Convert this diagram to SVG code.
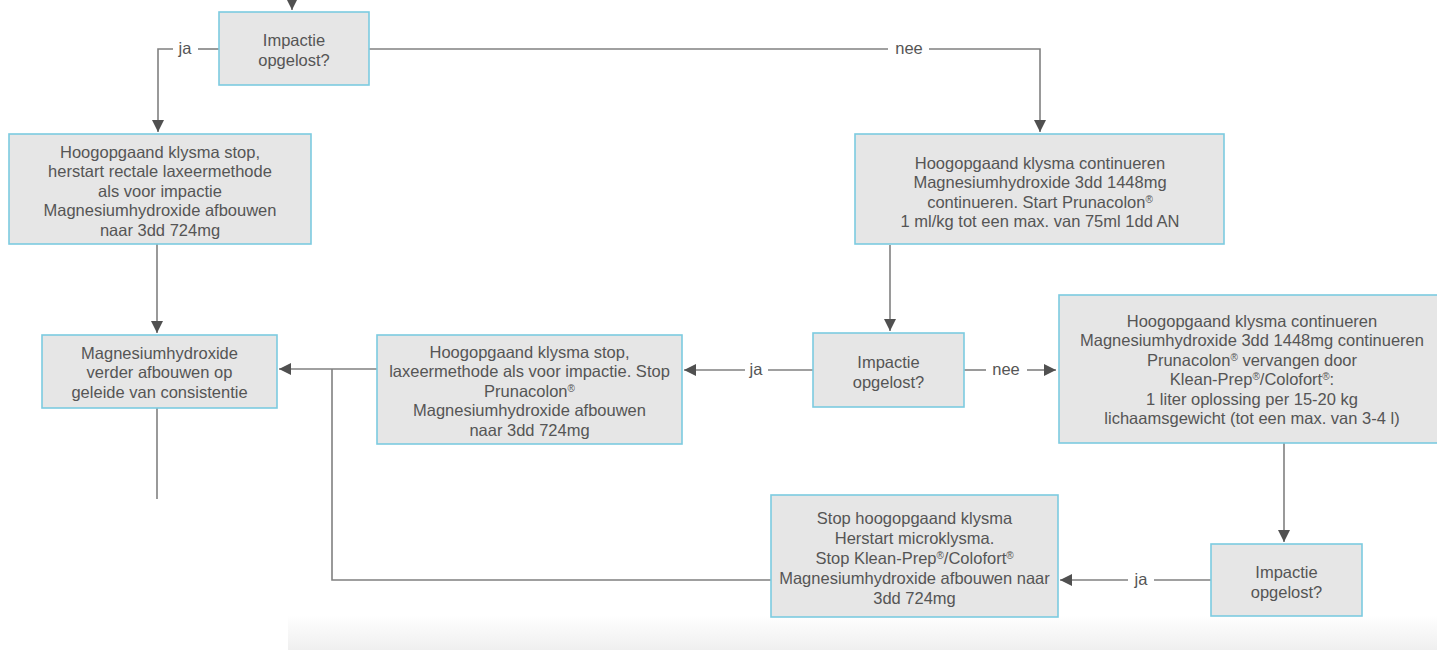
<svg xmlns="http://www.w3.org/2000/svg" width="1437" height="650" viewBox="0 0 1437 650">
<style>
.box{fill:#e6e6e6;stroke:#7ccbe0;stroke-width:1.6}
.t{font-family:"Liberation Sans",Arial,sans-serif;font-size:16.5px;fill:#555;text-anchor:middle}
.ln{fill:none;stroke:#808080;stroke-width:1.6}
.sup{font-size:10px;baseline-shift:super}
</style>
<defs>
<marker id="ah" markerUnits="userSpaceOnUse" viewBox="0 0 12 12" refX="12" refY="6" markerWidth="12" markerHeight="12" orient="auto">
<path d="M0,0 L12,6 L0,12 z" fill="#505050"/>
</marker>
<linearGradient id="band" x1="0" y1="0" x2="0" y2="1">
<stop offset="0" stop-color="#ffffff"/>
<stop offset="1" stop-color="#efefef"/>
</linearGradient>
</defs>
<rect x="288" y="615" width="1149" height="35" fill="url(#band)"/>
<g id="connectors">
<path class="ln" d="M292,-5 V10" marker-end="url(#ah)"/>
<path class="ln" d="M219,49 H198"/>
<path class="ln" d="M173,49 H158 V132" marker-end="url(#ah)"/>
<path class="ln" d="M369,49 H888"/>
<path class="ln" d="M929,49 H1040 V132" marker-end="url(#ah)"/>
<path class="ln" d="M157,244 V333" marker-end="url(#ah)"/>
<path class="ln" d="M890,245 V331" marker-end="url(#ah)"/>
<path class="ln" d="M813,370 H768"/>
<path class="ln" d="M745,370 H684" marker-end="url(#ah)"/>
<path class="ln" d="M964,370 H986"/>
<path class="ln" d="M1027,370 H1056" marker-end="url(#ah)"/>
<path class="ln" d="M377,369 H279" marker-end="url(#ah)"/>
<path class="ln" d="M332,369 V580 H771"/>
<path class="ln" d="M157,408 V499"/>
<path class="ln" d="M1284,443 V542" marker-end="url(#ah)"/>
<path class="ln" d="M1211,580 H1154"/>
<path class="ln" d="M1128,580 H1060" marker-end="url(#ah)"/>
<text class="t" x="185" y="54">ja</text>
<text class="t" x="909" y="54">nee</text>
<text class="t" x="756" y="375">ja</text>
<text class="t" x="1006" y="375">nee</text>
<text class="t" x="1141" y="585">ja</text>
</g>
<g id="n1">
<rect class="box" x="219" y="12" width="150" height="73"/>
<text class="t" x="294" y="45.5">Impactie</text>
<text class="t" x="294" y="66">opgelost?</text>
</g>
<g id="n2">
<rect class="box" x="9" y="134" width="302" height="110"/>
<text class="t" x="160" y="157.5">Hoogopgaand klysma stop,</text>
<text class="t" x="160" y="177">herstart rectale laxeermethode</text>
<text class="t" x="160" y="196.5">als voor impactie</text>
<text class="t" x="160" y="216">Magnesiumhydroxide afbouwen</text>
<text class="t" x="160" y="235.5">naar 3dd 724mg</text>
</g>
<g id="n3">
<rect class="box" x="855" y="134" width="369" height="110"/>
<text class="t" x="1040" y="168.5">Hoogopgaand klysma continueren</text>
<text class="t" x="1040" y="188">Magnesiumhydroxide 3dd 1448mg</text>
<text class="t" x="1040" y="207.5">continueren. Start Prunacolon<tspan class="sup">®</tspan></text>
<text class="t" x="1040" y="227">1 ml/kg tot een max. van 75ml 1dd AN</text>
</g>
<g id="n4">
<rect class="box" x="42" y="335" width="235" height="73"/>
<text class="t" x="159.5" y="358.5">Magnesiumhydroxide</text>
<text class="t" x="159.5" y="378">verder afbouwen op</text>
<text class="t" x="159.5" y="397.5">geleide van consistentie</text>
</g>
<g id="n5">
<rect class="box" x="377" y="335" width="305" height="109"/>
<text class="t" x="529.5" y="357.5">Hoogopgaand klysma stop,</text>
<text class="t" x="529.5" y="377">laxeermethode als voor impactie. Stop</text>
<text class="t" x="529.5" y="396.5">Prunacolon<tspan class="sup">®</tspan></text>
<text class="t" x="529.5" y="416">Magnesiumhydroxide afbouwen</text>
<text class="t" x="529.5" y="435.5">naar 3dd 724mg</text>
</g>
<g id="n6">
<rect class="box" x="813" y="333" width="151" height="74"/>
<text class="t" x="888.5" y="367.5">Impactie</text>
<text class="t" x="888.5" y="387.5">opgelost?</text>
</g>
<g id="n7">
<rect class="box" x="1059" y="295" width="390" height="148"/>
<text class="t" x="1252" y="326.5">Hoogopgaand klysma continueren</text>
<text class="t" x="1252" y="346">Magnesiumhydroxide 3dd 1448mg continueren</text>
<text class="t" x="1252" y="365.5">Prunacolon<tspan class="sup">®</tspan> vervangen door</text>
<text class="t" x="1252" y="385">Klean-Prep<tspan class="sup">®</tspan>/Colofort<tspan class="sup">®</tspan>:</text>
<text class="t" x="1252" y="404.5">1 liter oplossing per 15-20 kg</text>
<text class="t" x="1252" y="424">lichaamsgewicht (tot een max. van 3-4 l)</text>
</g>
<g id="n8">
<rect class="box" x="771" y="495" width="287" height="122"/>
<text class="t" x="914.5" y="523.5">Stop hoogopgaand klysma</text>
<text class="t" x="914.5" y="543.5">Herstart microklysma.</text>
<text class="t" x="914.5" y="563.5">Stop Klean-Prep<tspan class="sup">®</tspan>/Colofort<tspan class="sup">®</tspan></text>
<text class="t" x="914.5" y="583.5">Magnesiumhydroxide afbouwen naar</text>
<text class="t" x="914.5" y="603.5">3dd 724mg</text>
</g>
<g id="n9">
<rect class="box" x="1211" y="544" width="151" height="72"/>
<text class="t" x="1286.5" y="577.5">Impactie</text>
<text class="t" x="1286.5" y="597.5">opgelost?</text>
</g>
</svg>
